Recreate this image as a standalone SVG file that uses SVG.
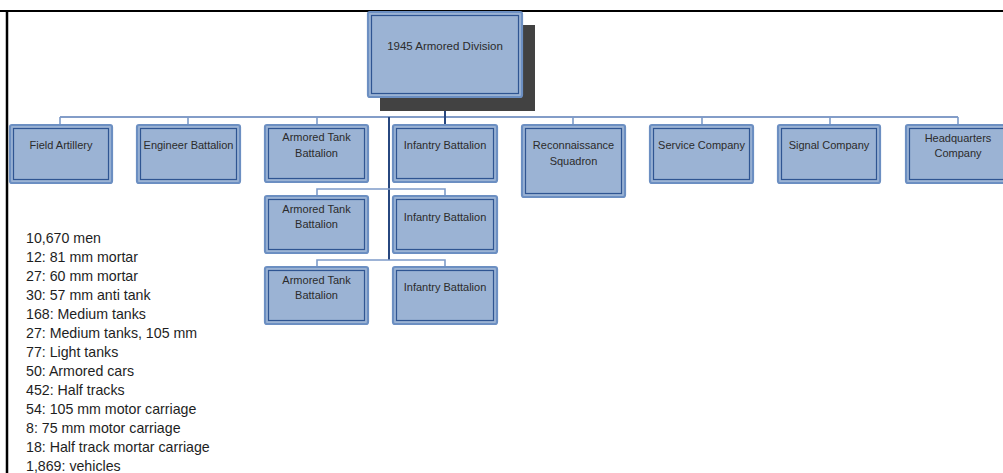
<svg xmlns="http://www.w3.org/2000/svg" width="1003" height="473" viewBox="0 0 1003 473">
  <defs>
    <style>
      .box { fill: #9bb3d4; stroke: #6c8fc2; stroke-width: 2.2; }
      .inner { fill: none; stroke: #2f5592; stroke-width: 1.2; }
      .lbl { font-family: "Liberation Sans", Arial, sans-serif; font-size: 11px; fill: #2b2b2b; text-anchor: middle; }
      .top { font-size: 11.5px; }
      .stat { font-family: "Liberation Sans", Arial, sans-serif; font-size: 14.2px; fill: #1e1e1e; }
      .bus { fill: none; stroke: #5a7db6; stroke-width: 1.6; }
      .drop { fill: none; stroke: #7d9bc9; stroke-width: 1.6; }
      .trunk { fill: none; stroke: #27477f; stroke-width: 2; }
    </style>
  </defs>
  <rect x="0" y="0" width="1003" height="473" fill="#ffffff"/>

  <!-- page frame -->
  <line x1="0" y1="11" x2="1003" y2="11" stroke="#000" stroke-width="2.2"/>
  <line x1="7" y1="11" x2="7" y2="473" stroke="#000" stroke-width="2.5"/>

  <!-- connectors -->
  <g id="connectors">
    <line class="bus" x1="60" y1="117" x2="958" y2="117"/>
    <path class="drop" d="M60 117V125M188 117V125M317 117V125M573 117V125M702 117V125M830 117V125M958 117V125"/>
    <line class="trunk" x1="445" y1="97" x2="445" y2="125"/>
    <line class="trunk" x1="389" y1="117" x2="389" y2="260"/>
    <path class="drop" d="M317 196V189H445V196"/>
    <path class="drop" d="M317 267V260H445V267"/>
  </g>

  <!-- top node -->
  <g id="division">
    <rect x="380" y="25" width="155" height="86" fill="#424242"/>
    <rect class="box" x="368" y="12" width="154" height="85" rx="2"/>
    <rect class="inner" x="371.5" y="15.5" width="147" height="78"/>
    <text class="lbl top" x="445" y="49.5">1945 Armored Division</text>
  </g>

  <g id="field-artillery">
    <rect class="box" x="10" y="125" width="102" height="58" rx="2"/>
    <rect class="inner" x="13.5" y="128.5" width="95" height="51"/>
    <text class="lbl" x="61" y="149">Field Artillery</text>
  </g>

  <g id="engineer-battalion">
    <rect class="box" x="137" y="125" width="103" height="58" rx="2"/>
    <rect class="inner" x="140.5" y="128.5" width="96" height="51"/>
    <text class="lbl" x="188.5" y="149">Engineer Battalion</text>
  </g>

  <g id="armored-tank-1">
    <rect class="box" x="265" y="125" width="103" height="57" rx="2"/>
    <rect class="inner" x="268.5" y="128.5" width="96" height="50"/>
    <text class="lbl" x="316.5" y="141">Armored Tank</text>
    <text class="lbl" x="316.5" y="157">Battalion</text>
  </g>

  <g id="infantry-1">
    <rect class="box" x="393" y="125" width="104" height="57" rx="2"/>
    <rect class="inner" x="396.5" y="128.5" width="97" height="50"/>
    <text class="lbl" x="445" y="149">Infantry Battalion</text>
  </g>

  <g id="armored-tank-2">
    <rect class="box" x="265" y="196" width="103" height="57" rx="2"/>
    <rect class="inner" x="268.5" y="199.5" width="96" height="50"/>
    <text class="lbl" x="316.5" y="213">Armored Tank</text>
    <text class="lbl" x="316.5" y="228">Battalion</text>
  </g>

  <g id="infantry-2">
    <rect class="box" x="393" y="196" width="104" height="57" rx="2"/>
    <rect class="inner" x="396.5" y="199.5" width="97" height="50"/>
    <text class="lbl" x="445" y="221">Infantry Battalion</text>
  </g>

  <g id="armored-tank-3">
    <rect class="box" x="265" y="267" width="103" height="57" rx="2"/>
    <rect class="inner" x="268.5" y="270.5" width="96" height="50"/>
    <text class="lbl" x="316.5" y="284">Armored Tank</text>
    <text class="lbl" x="316.5" y="299">Battalion</text>
  </g>

  <g id="infantry-3">
    <rect class="box" x="393" y="267" width="104" height="57" rx="2"/>
    <rect class="inner" x="396.5" y="270.5" width="97" height="50"/>
    <text class="lbl" x="445" y="291">Infantry Battalion</text>
  </g>

  <g id="reconnaissance-squadron">
    <rect class="box" x="522" y="125" width="103" height="72" rx="2"/>
    <rect class="inner" x="525.5" y="128.5" width="96" height="65"/>
    <text class="lbl" x="573.5" y="149">Reconnaissance</text>
    <text class="lbl" x="573.5" y="165">Squadron</text>
  </g>

  <g id="service-company">
    <rect class="box" x="650" y="125" width="103" height="58" rx="2"/>
    <rect class="inner" x="653.5" y="128.5" width="96" height="51"/>
    <text class="lbl" x="701.5" y="149">Service Company</text>
  </g>

  <g id="signal-company">
    <rect class="box" x="778" y="125" width="102" height="58" rx="2"/>
    <rect class="inner" x="781.5" y="128.5" width="95" height="51"/>
    <text class="lbl" x="829" y="149">Signal Company</text>
  </g>

  <g id="headquarters-company">
    <rect class="box" x="906" y="125" width="103" height="58" rx="2"/>
    <rect class="inner" x="909.5" y="128.5" width="96" height="51"/>
    <text class="lbl" x="958" y="142">Headquarters</text>
    <text class="lbl" x="958" y="157">Company</text>
  </g>

  <!-- division strength -->
  <g id="strength" class="stat">
    <text x="26" y="243">10,670 men</text>
    <text x="26" y="262">12: 81 mm mortar</text>
    <text x="26" y="281">27: 60 mm mortar</text>
    <text x="26" y="300">30: 57 mm anti tank</text>
    <text x="26" y="319">168: Medium tanks</text>
    <text x="26" y="338">27: Medium tanks, 105 mm</text>
    <text x="26" y="357">77: Light tanks</text>
    <text x="26" y="376">50: Armored cars</text>
    <text x="26" y="395">452: Half tracks</text>
    <text x="26" y="414">54: 105 mm motor carriage</text>
    <text x="26" y="433">8: 75 mm motor carriage</text>
    <text x="26" y="452">18: Half track mortar carriage</text>
    <text x="26" y="471">1,869: vehicles</text>
  </g>
</svg>
